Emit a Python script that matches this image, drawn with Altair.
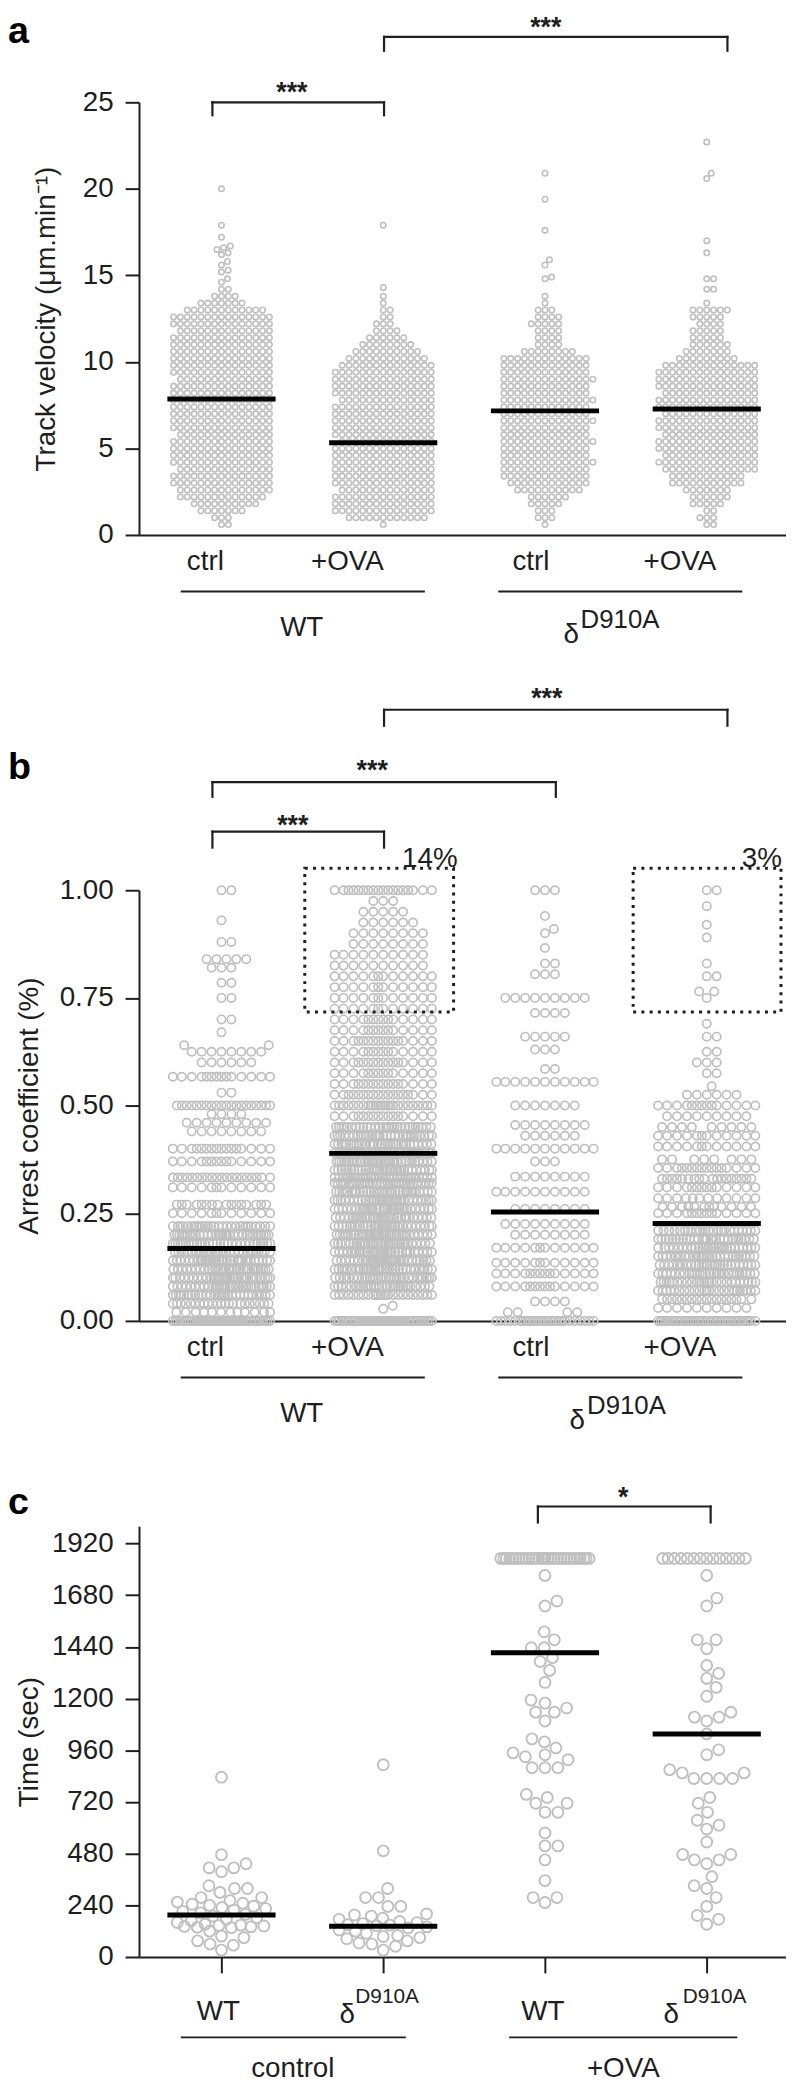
import altair as alt
import numpy as np
import pandas as pd

FONT = "Liberation Sans"
INK = "#1e1e1e"
DOT = "#bfbfbf"

# ---------------- shared layout ----------------
GROUPS = [1, 2, 3, 4]
X_DOMAIN = [0.49, 4.49]
PLOT_W = 652
UNIT_PX = PLOT_W / (X_DOMAIN[1] - X_DOMAIN[0])
MEAN_HALF = 54.5 / UNIT_PX

# ---------------- panel a : track velocity ----------------
A_ROW_VALUES = [0.6, 1.0, 1.4, 1.8, 2.2, 2.6, 3.0, 3.4, 3.8, 4.2, 4.6, 5.0, 5.4, 5.8,
                6.2, 6.6, 7.0, 7.4, 7.8, 8.2, 8.6, 9.0, 9.4, 9.8, 10.2, 10.6, 11.0,
                11.4, 11.8, 12.2, 12.6, 13.0, 13.4, 13.8]
A_WT_CTRL_COUNTS = [2, 3, 7, 10, 13, 14, 15, 15, 14, 15,
                    15, 15, 15, 14, 15, 15, 15, 15, 15, 15,
                    15, 14, 15, 15, 15, 15, 15, 15, 14, 15,
                    15, 12, 7, 4]
A_WT_OVA_COUNTS = [1, 12, 15, 15, 15, 14, 15, 15, 15, 15,
                   15, 15, 14, 15, 15, 15, 15, 15, 14, 15,
                   15, 15, 15, 14, 12, 10, 8, 6, 4, 3,
                   2, 2, 1, 1]
A_D_CTRL_COUNTS = [1, 3, 3, 5, 6, 10, 12, 13, 13, 14,
                   13, 13, 14, 13, 13, 14, 13, 13, 14, 13,
                   13, 14, 13, 13, 13, 8, 4, 4, 4, 5,
                   4, 3, 1, 1]
A_D_OVA_COUNTS = [2, 3, 2, 5, 6, 7, 11, 11, 14, 15,
                  14, 15, 15, 14, 15, 15, 14, 15, 15, 14,
                  15, 15, 15, 14, 9, 7, 6, 5, 5, 4,
                  5, 6, 1, 0]
A_WT_CTRL_TAIL = [14.2, 14.2, 14.6, 14.8, 15.2, 15.3, 15.6, 15.8, 16.2, 16.3, 16.5,
                  16.6, 16.7, 17.2, 17.9, 20.0]
A_WT_OVA_TAIL = [14.3, 17.9]
A_D_CTRL_TAIL = [14.8, 14.9, 15.6, 15.9, 17.6, 19.4, 20.9]
A_D_OVA_TAIL = [14.2, 14.2, 14.8, 14.8, 16.3, 17.0, 20.6, 20.9, 22.7]
A_MEANS = [7.86, 5.33, 7.17, 7.28]
A_TICKS = [0, 5, 10, 15, 20, 25]

# ---------------- panel b : arrest coefficient ----------------
B_WT_CTRL_VALUES = [0.00, 0.02, 0.04, 0.06, 0.08, 0.10, 0.12, 0.14, 0.16, 0.18, 0.20, 0.22,
                    0.25, 0.27, 0.31, 0.333, 0.37, 0.40, 0.44, 0.46, 0.48, 0.50, 0.53,
                    0.567, 0.60, 0.625, 0.64, 0.67, 0.70, 0.75, 0.785, 0.82, 0.84, 0.88,
                    0.93, 1.00]
B_WT_CTRL_COUNTS = [60, 12, 22, 30, 30, 32, 30, 32, 30, 30, 32, 28,
                    12, 16, 12, 20, 14, 16, 8, 9, 4, 20, 2,
                    14, 6, 8, 2, 1, 2, 2, 2, 3, 5, 2,
                    1, 2]
B_WT_OVA_VALUES = [0.00, 0.028, 0.035, 0.06, 0.08, 0.10, 0.12, 0.14, 0.16, 0.18, 0.20, 0.22,
                   0.24, 0.26, 0.28, 0.30, 0.32, 0.333, 0.35, 0.37, 0.39, 0.41, 0.43, 0.45,
                   0.475, 0.50, 0.525, 0.55, 0.575, 0.60, 0.625, 0.65, 0.675, 0.70, 0.725,
                   0.75, 0.775, 0.80, 0.825, 0.85, 0.875, 0.90, 0.925, 0.95, 0.975, 1.00]
B_WT_OVA_COUNTS = [60, 1, 1, 24, 30, 32, 32, 32, 32, 32, 34, 32,
                   32, 32, 32, 32, 32, 34, 32, 34, 32, 30, 30, 28,
                   16, 26, 18, 16, 14, 16, 14, 16, 14, 14, 12,
                   12, 12, 12, 10, 10, 8, 8, 6, 5, 3, 18]
B_D_CTRL_VALUES = [0.00, 0.02, 0.045, 0.08, 0.11, 0.135, 0.17, 0.20, 0.225, 0.26, 0.30,
                   0.335, 0.37, 0.40, 0.43, 0.455, 0.50, 0.555, 0.585, 0.63, 0.66, 0.715,
                   0.75, 0.805, 0.83, 0.866, 0.90, 0.91, 0.94, 1.00]
B_D_CTRL_COUNTS = [30, 4, 4, 14, 14, 12, 12, 8, 9, 8, 10,
                   8, 3, 11, 6, 8, 7, 11, 2, 3, 5, 4,
                   9, 3, 2, 1, 1, 1, 1, 3]
B_D_OVA_VALUES = [0.00, 0.03, 0.05, 0.07, 0.09, 0.11, 0.13, 0.15, 0.17, 0.19, 0.21, 0.25,
                  0.265, 0.285, 0.31, 0.33, 0.355, 0.375, 0.405, 0.43, 0.45, 0.475, 0.50,
                  0.525, 0.545, 0.575, 0.60, 0.625, 0.66, 0.69, 0.75, 0.765, 0.80, 0.83,
                  0.89, 0.92, 0.963, 1.00]
B_D_OVA_COUNTS = [40, 10, 18, 24, 26, 28, 28, 28, 26, 28, 24, 14,
                  12, 12, 14, 18, 16, 8, 12, 12, 9, 9, 14,
                  6, 1, 2, 3, 2, 2, 1, 1, 2, 2, 1,
                  1, 1, 1, 2]
B_MEANS = [0.168, 0.389, 0.253, 0.226]
B_TICKS = [0, 0.25, 0.5, 0.75, 1.0]

# ---------------- panel c : time (sec) ----------------
C_WT_CTRL = [835, 475, 433, 414, 414, 396, 331, 318, 318, 300, 276, 276, 262, 255, 250,
             245, 240, 236, 230, 225, 218, 212, 205, 198, 190, 182, 175, 168, 160, 152,
             148, 146, 144, 142, 140, 138, 136, 120, 97, 90, 75, 60, 55, 32]
C_D_CTRL = [893, 493, 318, 276, 276, 235, 235, 200, 195, 190, 180, 175, 165, 160, 155,
            150, 148, 145, 140, 135, 125, 120, 110, 100, 95, 90, 85, 75, 65, 60, 50, 32]
C_WT_OVA = [1772, 1653, 1630, 1510, 1473, 1436, 1436, 1390, 1372, 1331, 1275, 1193, 1179,
            1156, 1137, 1137, 1096, 1013, 999, 971, 948, 939, 930, 916, 879, 879, 879,
            755, 741, 714, 714, 672, 672, 576, 516, 516, 451, 355, 276, 276, 253]
C_D_OVA = [1772, 1667, 1630, 1473, 1473, 1432, 1354, 1317, 1294, 1252, 1211, 1137, 1114,
           1114, 1096, 1036, 962, 939, 870, 855, 855, 829, 829, 829, 829, 741, 714, 672,
           635, 612, 594, 534, 476, 451, 433, 451, 476, 373, 331, 318, 276, 235, 193,
           175, 152]
C_TOP_VALUE = 1851
C_WT_OVA_TOP_N = 30
C_D_OVA_TOP_N = 14
C_MEANS = [195, 143, 1413, 1036]
C_TICKS = [0, 240, 480, 720, 960, 1200, 1440, 1680, 1920]

# ---------------- layout (px) ----------------
A_H, B_H, B_GAP, C_H = 436, 585, 151, 434
SPACING = 207


def swarm(ypx, d, lim):
    """Beeswarm x-offsets (px) for values already converted to px."""
    ypx = np.asarray(ypx, dtype=float)
    order = np.argsort(ypx, kind="stable")
    xs = np.zeros(len(ypx))
    py, px = [], []
    grid = np.arange(-lim, lim + 1e-9, 0.5)
    start = 0
    for idx in order:
        y = ypx[idx]
        while start < len(py) and py[start] <= y - d:
            start += 1
        x = None
        if start >= len(py):
            x = 0.0
        else:
            ny = np.asarray(py[start:])
            nx = np.asarray(px[start:])
            dy2 = (ny - y) ** 2
            reach = np.sqrt(np.maximum(d * d - dy2, 0.0))
            cands = np.concatenate(([0.0], nx + reach, nx - reach))
            cands = cands[np.abs(cands) <= lim + 1e-6]
            if cands.size:
                dist2 = (cands[:, None] - nx[None, :]) ** 2 + dy2[None, :]
                good = np.all(dist2 >= d * d - 1e-6, axis=1)
                if good.any():
                    c = cands[good]
                    x = float(c[np.argmin(np.abs(c))])
            if x is None:
                dist2 = (grid[:, None] - nx[None, :]) ** 2 + dy2[None, :]
                score = dist2.min(axis=1) - 1e-4 * np.abs(grid)
                x = float(grid[np.argmax(score)])
        xs[idx] = x
        py.append(y)
        px.append(x)
    return xs


def expand(values, counts):
    out = []
    for v, c in zip(values, counts):
        out.extend([v] * c)
    return out


def points_frame(group_values, px_per_value, d, lim):
    xs, ys = [], []
    for g, vals in zip(GROUPS, group_values):
        vals = np.asarray(vals, dtype=float)
        off = swarm(vals * px_per_value, d, lim)
        xs.extend(list(g + off / UNIT_PX))
        ys.extend(list(vals))
    return pd.DataFrame({"x": xs, "y": ys})


XS = alt.Scale(domain=X_DOMAIN, nice=False, zero=False)


def y_axis(values, fmt, title, tx, ty):
    return alt.Axis(values=values, format=fmt, title=title, grid=False,
                    tickSize=14, tickWidth=2, tickColor=INK, domainColor=INK, domainWidth=2,
                    labelFont=FONT, labelFontSize=28, labelColor=INK, labelPadding=12,
                    titleFont=FONT, titleFontSize=28, titleFontWeight="normal",
                    titleColor=INK, titleX=tx, titleY=ty, titleBaseline="middle")


def x_axis(with_ticks):
    if with_ticks:
        return alt.Axis(title=None, labels=False, ticks=True, values=GROUPS, tickSize=16,
                        tickWidth=2, tickColor=INK, domainColor=INK, domainWidth=2, grid=False)
    return alt.Axis(title=None, labels=False, ticks=False, domainColor=INK,
                    domainWidth=2, grid=False)


class Panel:
    def __init__(self, yscale, xaxis, yaxis):
        self.ys = yscale
        self.xa = xaxis
        self.ya = yaxis

    def X(self):
        return alt.X("x:Q", scale=XS, axis=self.xa)

    def Y(self):
        return alt.Y("y:Q", scale=self.ys, axis=self.ya)

    def points(self, df, size, sw):
        return alt.Chart(df).mark_point(shape="circle", filled=False, size=size,
                                        strokeWidth=sw, color=DOT, opacity=1).encode(
            x=self.X(), y=self.Y())

    def means(self, means):
        df = pd.DataFrame({"x": [g - MEAN_HALF for g in GROUPS],
                           "x2": [g + MEAN_HALF for g in GROUPS], "y": means})
        return alt.Chart(df).mark_rule(color="#000000", strokeWidth=5).encode(
            x=self.X(), x2="x2:Q", y=self.Y())

    def brackets(self, brackets):
        seg = []
        for x1, x2, yt, yb in brackets:
            seg.append({"x": x1, "x2": x1, "y": yb, "y2": yt})
            seg.append({"x": x1, "x2": x2, "y": yt, "y2": yt})
            seg.append({"x": x2, "x2": x2, "y": yt, "y2": yb})
        return alt.Chart(pd.DataFrame(seg)).mark_rule(color=INK, strokeWidth=2.2,
                                                      strokeCap="square").encode(
            x=self.X(), x2="x2:Q", y=self.Y(), y2="y2:Q")

    def stars(self, stars):
        df = pd.DataFrame(stars, columns=["x", "y", "t"])
        return alt.Chart(df).mark_text(font=FONT, fontSize=27, fontWeight="bold",
                                       color=INK, baseline="alphabetic", dy=16).encode(
            x=self.X(), y=self.Y(), text="t:N")

    def boxes(self, df):
        return alt.Chart(df).mark_rect(fillOpacity=0, stroke=INK, strokeWidth=3,
                                       strokeDash=[3, 5.3]).encode(
            x=self.X(), x2="x2:Q", y=self.Y(), y2="y2:Q")

    def text(self, xs, texts, y_px, size, align="center"):
        df = pd.DataFrame({"x": xs, "t": texts})
        return alt.Chart(df).mark_text(font=FONT, fontSize=size, color=INK, align=align,
                                       baseline="alphabetic").encode(
            x=self.X(), y=alt.value(y_px), text="t:N")

    def underline(self, pairs, y_px):
        df = pd.DataFrame(pairs, columns=["x", "x2"])
        return alt.Chart(df).mark_rule(color=INK, strokeWidth=2).encode(
            x=self.X(), x2="x2:Q", y=alt.value(y_px))

    @staticmethod
    def letter(ch, y_px):
        return alt.Chart(pd.DataFrame({"t": [ch]})).mark_text(
            font=FONT, fontSize=38, fontWeight="bold", color="#000000", align="left",
            baseline="alphabetic").encode(x=alt.value(-132), y=alt.value(y_px), text="t:N")


SUB_X = [0.900, 1.778, 2.913, 3.834]
SUB_TEXT = ["ctrl", "+OVA", "ctrl", "+OVA"]
UNDER_AB = [(0.748, 2.257), (2.711, 4.220)]

# ---------------- panel a ----------------
a_pts = points_frame([expand(A_ROW_VALUES, A_WT_CTRL_COUNTS) + A_WT_CTRL_TAIL,
                      expand(A_ROW_VALUES, A_WT_OVA_COUNTS) + A_WT_OVA_TAIL,
                      expand(A_ROW_VALUES, A_D_CTRL_COUNTS) + A_D_CTRL_TAIL,
                      expand(A_ROW_VALUES, A_D_OVA_COUNTS) + A_D_OVA_TAIL],
                     A_H / 25.0, 6.9, 48.3)
pa = Panel(alt.Scale(domain=[0, 25], nice=False, zero=True), x_axis(False),
           y_axis(A_TICKS, "d", "Track velocity (\u03bcm.min\u207b\u00b9)", -93, A_H / 2))
panel_a = alt.layer(
    pa.points(a_pts, 30, 1.6),
    pa.means(A_MEANS),
    pa.brackets([(0.944, 2.005, 25.0, 24.25), (2.005, 4.128, 28.78, 27.98)]),
    pa.stars([(1.435, 25.97, "***"), (3.005, 29.76, "***")]),
    pa.text(SUB_X, SUB_TEXT, A_H + 35, 28),
    pa.underline(UNDER_AB, A_H + 57),
    pa.text([1.496], ["WT"], A_H + 102, 28),
    pa.text([3.162], ["\u03b4"], A_H + 109, 28),
    pa.text([3.220], ["D910A"], A_H + 94, 26, align="left"),
    Panel.letter("a", -60),
).properties(width=PLOT_W, height=A_H)

# ---------------- panel b ----------------
B_SPAN = B_H - B_GAP
b_pts = points_frame([expand(B_WT_CTRL_VALUES, B_WT_CTRL_COUNTS),
                      expand(B_WT_OVA_VALUES, B_WT_OVA_COUNTS),
                      expand(B_D_CTRL_VALUES, B_D_CTRL_COUNTS),
                      expand(B_D_OVA_VALUES, B_D_OVA_COUNTS)],
                     B_SPAN, 10.0, 49.0)
pb = Panel(alt.Scale(domain=[0, 1], range=[B_H, B_GAP], nice=False, zero=True), x_axis(False),
           y_axis(B_TICKS, ".2f", "Arrest coefficient (%)", -110, 368))
box_df = pd.DataFrame({"x": [1.515, 3.545], "x2": [2.435, 4.459],
                       "y": [0.717, 0.717], "y2": [1.051, 1.051]})
panel_b = alt.layer(
    pb.points(b_pts, 70, 1.7),
    pb.means(B_MEANS),
    pb.boxes(box_df),
    pb.brackets([(0.944, 2.005, 1.136, 1.099), (0.944, 3.067, 1.251, 1.217),
                 (2.005, 4.128, 1.419, 1.382)]),
    pb.stars([(1.441, 1.168, "***"), (1.932, 1.295, "***"), (3.011, 1.463, "***")]),
    pb.text([2.116], ["14%"], 128, 28, align="left"),
    pb.text([4.465], ["3%"], 128, 28, align="right"),
    pb.text(SUB_X, SUB_TEXT, B_H + 35, 28),
    pb.underline(UNDER_AB, B_H + 57),
    pb.text([1.496], ["WT"], B_H + 102, 28),
    pb.text([3.200], ["\u03b4"], B_H + 109, 28),
    pb.text([3.260], ["D910A"], B_H + 94, 26, align="left"),
    Panel.letter("b", 39),
).properties(width=PLOT_W, height=B_H)

# ---------------- panel c ----------------
c_pts = points_frame([C_WT_CTRL, C_D_CTRL,
                      C_WT_OVA + [C_TOP_VALUE] * C_WT_OVA_TOP_N,
                      C_D_OVA + [C_TOP_VALUE] * C_D_OVA_TOP_N],
                     C_H / 2000.0, 13.0, 44.5)
pc = Panel(alt.Scale(domain=[0, 2000], nice=False, zero=True), x_axis(True),
           y_axis(C_TICKS, "d", "Time (sec)", -110, C_H / 2))
panel_c = alt.layer(
    pc.points(c_pts, 121, 1.9),
    pc.means(C_MEANS),
    pc.brackets([(2.956, 4.024, 2092, 2018)]),
    pc.stars([(3.484, 2166, "*")]),
    pc.text([0.981, 2.987], ["WT", "WT"], C_H + 63, 28),
    pc.text([1.778, 3.781], ["\u03b4", "\u03b4"], C_H + 67, 28),
    pc.text([1.827, 3.852], ["D910A", "D910A"], C_H + 46, 21, align="left"),
    pc.underline([(0.748, 2.140), (2.778, 4.189)], C_H + 81),
    pc.text([1.441, 3.484], ["control", "+OVA"], C_H + 121, 28),
    Panel.letter("c", -12),
).properties(width=PLOT_W, height=C_H)

chart = alt.vconcat(panel_a, panel_b, panel_c, spacing=SPACING, bounds="flush").properties(
    padding={"left": 0, "top": -3, "right": 0, "bottom": 0}
).configure_view(stroke=None)

chart.save("out.html", embed_options={"renderer": "svg", "actions": False})
